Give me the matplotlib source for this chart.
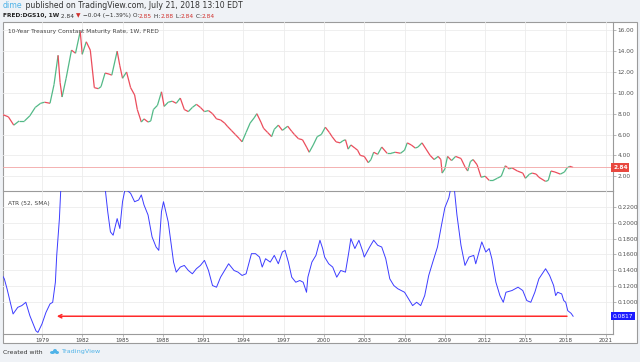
import numpy as np
import matplotlib
matplotlib.use('Agg')
import matplotlib.pyplot as plt
from matplotlib.collections import LineCollection
from matplotlib.patches import Rectangle, Ellipse

# 10Y yield, weekly candles (decimal year, close)
price_years = [1976.1, 1976.5, 1976.9, 1977.3, 1977.7, 1978.1, 1978.5, 1978.9, 1979.2, 1979.6,
               1979.9, 1980.2, 1980.35, 1980.5, 1980.8, 1981.2, 1981.5, 1981.85, 1982.0, 1982.3,
               1982.6, 1982.9, 1983.2, 1983.4, 1983.7, 1984.0, 1984.2, 1984.6, 1984.8, 1985.0,
               1985.3, 1985.6, 1985.9, 1986.1, 1986.4, 1986.6, 1986.9, 1987.1, 1987.3, 1987.6,
               1987.9, 1988.1, 1988.4, 1988.7, 1989.0, 1989.3, 1989.6, 1989.9, 1990.2, 1990.5,
               1990.8, 1991.1, 1991.4, 1991.7, 1992.0, 1992.3, 1992.6, 1992.8, 1993.1, 1993.4,
               1993.7, 1993.9, 1994.2, 1994.5, 1994.8, 1995.0, 1995.3, 1995.5, 1995.8, 1996.1,
               1996.3, 1996.6, 1996.9, 1997.3, 1997.6, 1997.8, 1998.1, 1998.4, 1998.7, 1998.9,
               1999.2, 1999.5, 1999.8, 2000.1, 2000.4, 2000.6, 2000.9, 2001.2, 2001.4, 2001.6,
               2001.8, 2002.0, 2002.3, 2002.5, 2002.7, 2003.0, 2003.3, 2003.5, 2003.7, 2004.0,
               2004.3, 2004.7, 2005.0, 2005.3, 2005.7, 2006.0, 2006.2, 2006.5, 2006.8, 2007.0,
               2007.3, 2007.6, 2007.9, 2008.2, 2008.5, 2008.7, 2008.8, 2009.0, 2009.2, 2009.5,
               2009.8, 2010.2, 2010.5, 2010.7, 2010.9, 2011.1, 2011.4, 2011.7, 2012.0, 2012.3,
               2012.6, 2012.9, 2013.2, 2013.5, 2013.8, 2014.0, 2014.4, 2014.8, 2015.0, 2015.3,
               2015.5, 2015.8, 2016.0, 2016.5, 2016.7, 2016.9, 2017.2, 2017.6, 2017.9, 2018.1,
               2018.3, 2018.55]
price_vals = [7.9, 7.7, 6.9, 7.3, 7.3, 7.8, 8.6, 9.0, 9.1, 9.0,
              10.8, 13.6, 11.0, 9.6, 11.4, 14.1, 13.8, 15.9, 13.7, 14.9,
              14.1, 10.5, 10.4, 10.6, 11.9, 11.8, 11.7, 14.0, 12.6, 11.4,
              12.0, 10.5, 9.8, 8.4, 7.2, 7.5, 7.2, 7.3, 8.4, 8.8,
              10.1, 8.7, 9.1, 9.2, 9.0, 9.5, 8.4, 8.2, 8.6, 8.9,
              8.6, 8.2, 8.3, 8.0, 7.5, 7.4, 7.1, 6.8, 6.4, 6.0,
              5.6, 5.3, 6.2, 7.1, 7.6, 8.0, 7.2, 6.6, 6.2, 5.8,
              6.5, 6.9, 6.4, 6.8, 6.3, 6.0, 5.6, 5.5, 4.8, 4.3,
              5.0, 5.8, 6.0, 6.7, 6.2, 5.8, 5.3, 5.2, 5.4, 5.5,
              4.6, 5.0, 4.7, 4.5, 4.0, 3.9, 3.3, 3.6, 4.3, 4.1,
              4.8, 4.2, 4.2, 4.3, 4.2, 4.5, 5.2, 5.0, 4.7, 4.8,
              5.2, 4.6, 4.0, 3.6, 3.9, 3.6, 2.3, 2.7, 3.9, 3.5,
              3.9, 3.7, 2.9, 2.5, 3.4, 3.6, 3.1, 1.9, 2.0, 1.6,
              1.6, 1.8, 2.0, 3.0, 2.7, 2.8, 2.5, 2.3, 1.8, 2.2,
              2.3, 2.2, 1.9, 1.5, 1.6, 2.5, 2.4, 2.2, 2.4, 2.8,
              2.95, 2.84]

# ATR (52, SMA)
atr_years = [1976.1, 1976.2, 1976.4, 1976.85, 1977.2, 1977.5, 1977.8, 1978.1, 1978.55, 1978.7,
             1979.0, 1979.3, 1979.6, 1979.8, 1980.0, 1980.1, 1980.3, 1980.45, 1982.0, 1983.6,
             1983.9, 1984.1, 1984.3, 1984.6, 1984.8, 1985.0, 1985.2, 1985.3, 1985.6, 1985.9,
             1986.2, 1986.4, 1986.6, 1986.9, 1987.2, 1987.5, 1987.7, 1987.9, 1988.05, 1988.4,
             1988.7, 1988.8, 1989.0, 1989.3, 1989.6, 1989.9, 1990.2, 1990.5, 1990.8, 1991.1,
             1991.4, 1991.7, 1992.0, 1992.3, 1992.6, 1992.9, 1993.3, 1993.6, 1993.9, 1994.2,
             1994.3, 1994.6, 1994.9, 1995.2, 1995.4, 1995.65, 1996.0, 1996.3, 1996.6, 1996.9,
             1997.1, 1997.35, 1997.6, 1997.9, 1998.2, 1998.45, 1998.7, 1998.8, 1999.1, 1999.4,
             1999.7, 1999.9, 2000.05, 2000.35, 2000.65, 2000.95, 2001.25, 2001.6, 2001.85, 2002.0,
             2002.3, 2002.6, 2002.9, 2003.0, 2003.4, 2003.7, 2004.0, 2004.3, 2004.6, 2004.9,
             2005.2, 2005.5, 2006.0, 2006.3, 2006.6, 2006.9, 2007.2, 2007.5, 2007.8, 2008.1,
             2008.45, 2008.75, 2009.0, 2009.3, 2009.5, 2009.7, 2009.9, 2010.2, 2010.5, 2010.8,
             2011.15, 2011.3, 2011.75, 2012.05, 2012.3, 2012.5, 2012.8, 2013.1, 2013.35, 2013.55,
             2014.0, 2014.45, 2014.8, 2015.1, 2015.4, 2015.7, 2016.0, 2016.5, 2016.8, 2017.1,
             2017.25, 2017.4, 2017.7, 2017.85, 2018.0, 2018.15, 2018.4, 2018.55]
atr_vals = [0.132, 0.129, 0.1165, 0.0846, 0.093, 0.0952, 0.0994, 0.0824, 0.0633, 0.0612,
            0.0718, 0.0866, 0.0973, 0.0994, 0.1248, 0.1588, 0.2054, 0.26, 0.34, 0.26,
            0.214, 0.1886, 0.1844, 0.2054, 0.1929, 0.2268, 0.2439, 0.2417, 0.2375, 0.2268,
            0.229, 0.2354, 0.2227, 0.21, 0.1822, 0.1694, 0.1652, 0.2142, 0.2268, 0.2013,
            0.1631, 0.1503, 0.1376, 0.144, 0.1461, 0.1397, 0.1355, 0.1419, 0.1461, 0.1525,
            0.1397, 0.1206, 0.1185, 0.1312, 0.1397, 0.1482, 0.1397, 0.1376, 0.1334, 0.1355,
            0.1419, 0.161, 0.161, 0.1567, 0.144, 0.1546, 0.1503, 0.1588, 0.1482, 0.1631,
            0.1652, 0.1503, 0.1312, 0.1248, 0.127, 0.1248, 0.1121, 0.1312, 0.1503, 0.1588,
            0.178, 0.1675, 0.1567, 0.1482, 0.144, 0.1312, 0.1397, 0.1376, 0.1631, 0.1801,
            0.1675, 0.178, 0.1631, 0.1567, 0.1694, 0.178, 0.1716, 0.1694, 0.1546, 0.1291,
            0.1206, 0.1165, 0.1121, 0.1037, 0.0952, 0.0994, 0.0952, 0.1079, 0.1334, 0.1503,
            0.1694, 0.1971, 0.2192, 0.232, 0.249, 0.2439, 0.21, 0.1716, 0.1461, 0.1567,
            0.1588, 0.1482, 0.1759, 0.1631, 0.1675, 0.1546, 0.1248, 0.1079, 0.0994, 0.1121,
            0.1143, 0.1185, 0.1143, 0.1016, 0.0994, 0.1121, 0.1291, 0.1419, 0.1334, 0.1206,
            0.1079, 0.1121, 0.11, 0.1016, 0.0994, 0.0888, 0.0854, 0.0817]

year_ticks = list(range(1979, 2022, 3))
price_ticks = [2, 4, 6, 8, 10, 12, 14, 16]
atr_ticks = [0.10, 0.12, 0.14, 0.16, 0.18, 0.20, 0.22]
last_price = 2.84
last_atr = 0.0817
arrow_to = 1979.9

W, H = 640, 362
BG = '#eff2f6'
GRID = '#ececec'
FRAME = '#9b9b9b'
UP, DOWN = '#53b987', '#eb4d5c'
ATR_C = '#3c3cff'
TXT = '#333333'
BLUE_TXT = '#4fb3e8'

plt.rcParams['font.family'] = 'DejaVu Sans'
fig = plt.figure(figsize=(W / 100, H / 100), dpi=100, facecolor=BG)

def fx(px):
    return px / W

def fy(py):
    return 1 - py / H

# white chart frame
fig.patches.append(Rectangle((fx(3), fy(343)), fx(634), 321 / H, transform=fig.transFigure,
                             facecolor='white', edgecolor=FRAME, lw=0.8, zorder=-10))

L, R = 3, 613
ax1 = fig.add_axes([fx(L), fy(191), fx(R - L), 169 / H])
ax2 = fig.add_axes([fx(L), fy(334), fx(R - L), 143 / H], sharex=ax1)

xlim = (1976.1, 2021.52)
for ax in (ax1, ax2):
    ax.set_facecolor('none')
    for s in ('top', 'left'):
        ax.spines[s].set_visible(False)
    ax.spines['right'].set_color(FRAME)
    ax.spines['right'].set_linewidth(0.8)
    ax.spines['bottom'].set_color(FRAME)
    ax.spines['bottom'].set_linewidth(0.8)
    ax.yaxis.tick_right()
    ax.tick_params(axis='y', length=2, width=0.5, color=FRAME, labelsize=4.2, labelcolor='#555555', pad=1.5)
    ax.set_xticks(year_ticks)
    ax.grid(True, color=GRID, lw=0.6)
    ax.set_axisbelow(True)
ax1.set_xlim(*xlim)
ax1.tick_params(axis='x', length=0, labelbottom=False)
ax2.tick_params(axis='x', length=2, width=0.5, color=FRAME, labelsize=4.0, labelcolor='#444444', pad=1.2)
ax2.set_xticklabels([str(y) for y in year_ticks])

# price panel
ax1.set_ylim(0.58, 16.8)
ax1.set_yticks(price_ticks)
ax1.set_yticklabels(['%.2f' % v for v in price_ticks])
px = np.array(price_years)
py = np.array(price_vals)
segs = [[(px[i - 1], py[i - 1]), (px[i], py[i])] for i in range(1, len(px))]
cols = [UP if py[i] >= py[i - 1] else DOWN for i in range(1, len(px))]
ax1.add_collection(LineCollection(segs, colors=cols, linewidths=0.9))
ax1.axhline(last_price, color='#f3a5a5', lw=0.6)
ax1.text(1.0, last_price, '2.84', transform=ax1.get_yaxis_transform(), ha='left', va='center',
         fontsize=4.2, color='white', fontweight='bold',
         bbox=dict(boxstyle='square,pad=0.3', fc='#e8483f', ec='none'))
ax1.text(fx(8 - L) / fx(R - L), 1 - 9 / 169, '10-Year Treasury Constant Maturity Rate, 1W, FRED',
         transform=ax1.transAxes, fontsize=4.2, color='#444444', va='center')

# ATR panel
ax2.set_ylim(0.0592, 0.2404)
ax2.set_yticks(atr_ticks)
ax2.set_yticklabels(['%.4f' % v for v in atr_ticks])
ax2.plot(atr_years, atr_vals, color=ATR_C, lw=0.7)
ax2.annotate('', xy=(arrow_to, last_atr), xytext=(2018.3, last_atr),
             arrowprops=dict(arrowstyle='->', color='#ff2a2a', lw=1.1, mutation_scale=6))
ax2.text(1.0, last_atr, '0.0817', transform=ax2.get_yaxis_transform(), ha='left', va='center',
         fontsize=4.2, color='white',
         bbox=dict(boxstyle='square,pad=0.3', fc='#1a1aff', ec='none'))
ax2.text(fx(8 - L) / fx(R - L), 1 - 12 / 143, 'ATR (52, SMA)', transform=ax2.transAxes,
         fontsize=4.2, color='#444444', va='center')

# header lines, coloured runs laid out one after another
renderer = fig.canvas.get_renderer()

def runs(x, y, parts, size):
    for s, c, w in parts:
        t = fig.text(fx(x), fy(y), s, fontsize=size, color=c, va='center', fontweight=w)
        bb = t.get_window_extent(renderer)
        x += bb.width

runs(3, 6, [('dime', BLUE_TXT, 'normal'),
            (' published on TradingView.com, July 21, 2018 13:10 EDT', TXT, 'normal')], 5.6)
runs(3, 16, [('FRED:DGS10, 1W', '#222222', 'bold'), (' 2.84 ', TXT, 'normal'),
             ('\u25bc', '#d0312d', 'normal'), (' \u22120.04 (\u22121.39%) O:', TXT, 'normal'),
             ('2.85', '#d0312d', 'normal'), (' H:', TXT, 'normal'), ('2.88', '#d0312d', 'normal'),
             (' L:', TXT, 'normal'), ('2.84', '#d0312d', 'normal'), (' C:', TXT, 'normal'),
             ('2.84', '#d0312d', 'normal')], 4.2)

# footer
fig.text(fx(3), fy(352), 'Created with', fontsize=4.4, color=TXT, va='center')
for cx, cy, w, h in [(52.5, 352.5, 5, 3), (55, 351, 4, 4), (57, 352.5, 4, 3)]:
    fig.patches.append(Ellipse((fx(cx), fy(cy)), fx(w), h / H, transform=fig.transFigure,
                               facecolor=BLUE_TXT, edgecolor='none'))
fig.text(fx(61), fy(352), 'TradingView', fontsize=4.6, color=BLUE_TXT, va='center')

fig.savefig('out.png', dpi=100, facecolor=BG)
